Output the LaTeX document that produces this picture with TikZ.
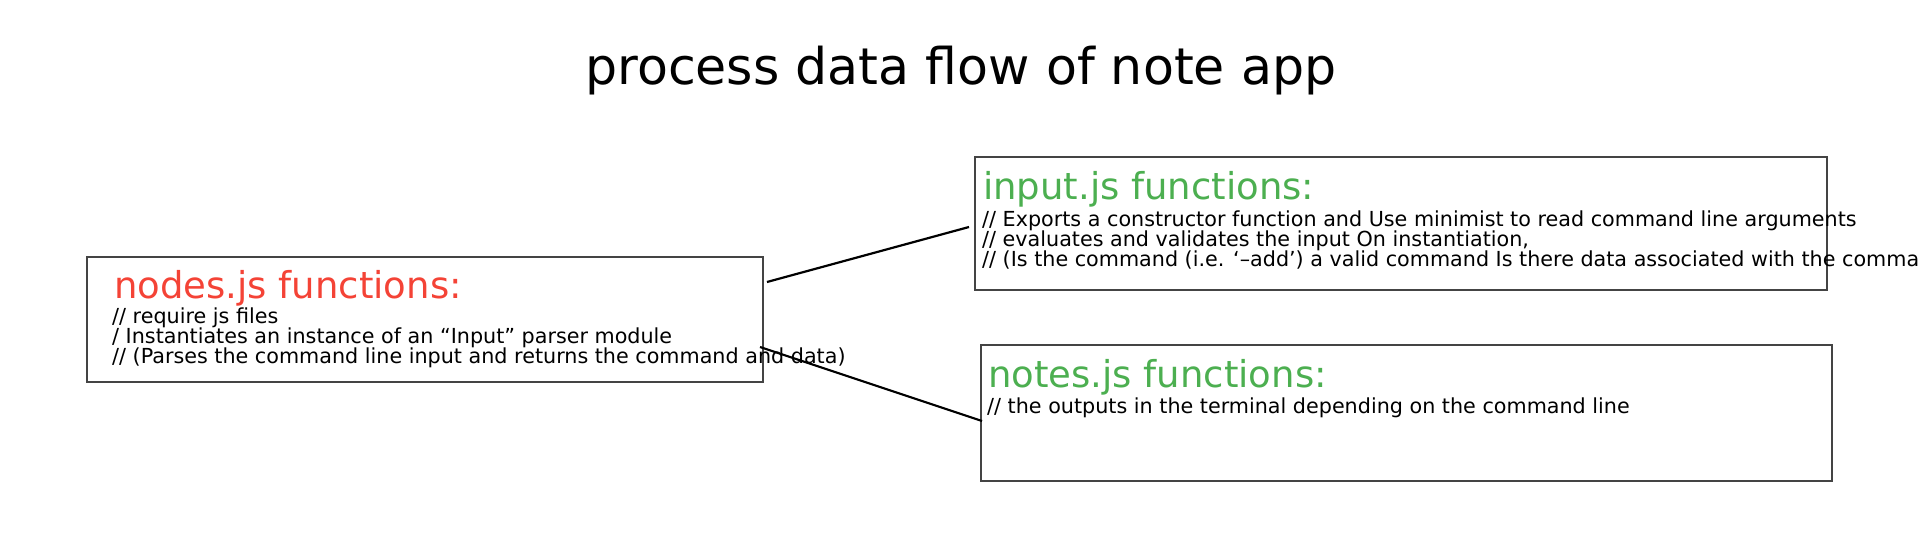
\documentclass[tikz,border=0pt]{standalone}
\usepackage{fontspec}
\setmainfont{DejaVu Sans}
\definecolor{jsred}{RGB}{244,67,54}
\definecolor{jsgreen}{RGB}{76,175,80}
\definecolor{boxline}{RGB}{68,68,68}
\tikzset{
  jsbox/.style={draw=boxline, line width=1.8pt, anchor=north west, inner sep=0pt, outer sep=0pt},
  headtext/.style={anchor=base west, inner sep=0pt, font=\fontsize{37}{44}\selectfont},
  bodytext/.style={anchor=base west, inner sep=0pt, font=\fontsize{20.7}{24}\selectfont},
  link/.style={line width=2.2pt, black},
}
\begin{document}
\begin{tikzpicture}[x=1pt,y=-1pt]
			%%%%% FRAME %%%%%
			\useasboundingbox (0,0) rectangle (1919,548);
			
			\node[anchor=base west, inner sep=0pt, font=\fontsize{50.6}{60}\selectfont] (title) at (585,85) {process data flow of note app};
			
			%%%%% BOXES %%%%%
			\node[jsbox, minimum width=676pt, minimum height=125pt] (nodesbox) at (87,257) {};
			\node[jsbox, minimum width=852pt, minimum height=133pt] (inputbox) at (975,157) {};
			\node[jsbox, minimum width=851pt, minimum height=136pt] (notesbox) at (981,345) {};
			
			%%%%% NODES.JS %%%%%
			\node[headtext, jsred] (nodeshead) at (114,298) {nodes.js functions:};
			\node[bodytext] (nodesa) at (112,323) {// require js files};
			\node[bodytext] (nodesb) at (112,343) {/ Instantiates an instance of an “Input” parser module};
			\node[bodytext] (nodesc) at (112,363) {// (Parses the command line input and returns the command and data)};
			
			%%%%% INPUT.JS %%%%%
			\node[headtext, jsgreen] (inputhead) at (983,200) {input.js functions:};
			\node[bodytext] (inputa) at (982,226) {// Exports a constructor function and Use minimist to read command line arguments};
			\node[bodytext] (inputb) at (982,246) {// evaluates and validates the input On instantiation,};
			\node[bodytext] (inputc) at (982,266) {// (Is the command (i.e. ‘–add’) a valid command Is there data associated with the command};
			
			%%%%% NOTES.JS %%%%%
			\node[headtext, jsgreen] (noteshead) at (988,387) {notes.js functions:};
			\node[bodytext] (notesa) at (987,413) {// the outputs in the terminal depending on the command line};
			
			%%%%% LINKS %%%%%
			\draw[link] ([shift={(4,25)}]nodesbox.north east) -- ([shift={(-6,3.5)}]inputbox.west);
			\draw[link] ([shift={(-3,90)}]nodesbox.north east) -- ([shift={(1,8)}]notesbox.west);
			
			%%%%% END %%%%%
\end{tikzpicture}
\end{document}
